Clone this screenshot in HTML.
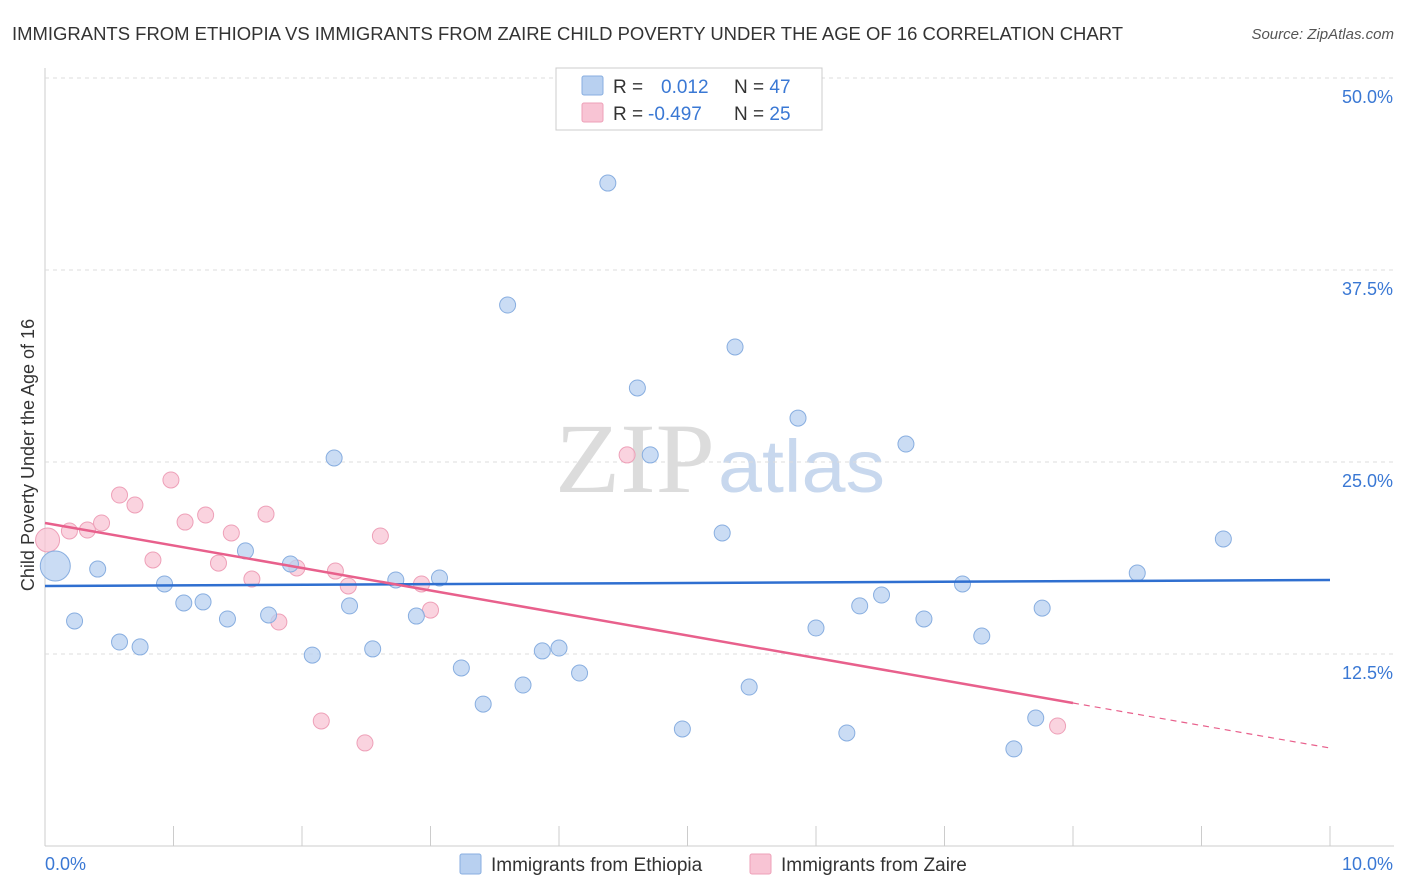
<!DOCTYPE html>
<html><head><meta charset="utf-8"><style>
body{margin:0;background:#fff;font-family:"Liberation Sans",sans-serif;}
#wrap{position:relative;width:1406px;height:892px;overflow:hidden;}
</style></head><body>
<div id="wrap">
<svg id="svg" width="1406" height="892" xmlns="http://www.w3.org/2000/svg">
<text x="12" y="40" font-size="18" fill="#333" textLength="1111" lengthAdjust="spacingAndGlyphs">IMMIGRANTS FROM ETHIOPIA VS IMMIGRANTS FROM ZAIRE CHILD POVERTY UNDER THE AGE OF 16 CORRELATION CHART</text>
<text x="1394" y="39" font-size="15" fill="#555" text-anchor="end" font-style="italic">Source: ZipAtlas.com</text>
<text x="555" y="492" font-size="100" fill="#dcdcdc" textLength="160" lengthAdjust="spacingAndGlyphs" font-family="Liberation Serif,serif">ZIP</text>
<text x="718" y="492" font-size="74" fill="#c8d8ee" textLength="167" lengthAdjust="spacingAndGlyphs">atlas</text>
<text transform="translate(34,455) rotate(-90)" font-size="18" fill="#333" text-anchor="middle">Child Poverty Under the Age of 16</text>
<g id="grid"></g><g id="marks"></g>
<g>
<rect x="556" y="68" width="266" height="62" fill="#fff" stroke="#ccc"/>
<rect x="582" y="76" width="21" height="19" fill="#b8d0f0" stroke="#88aee0" rx="2"/>
<rect x="582" y="103" width="21" height="19" fill="#f8c4d4" stroke="#eea0b8" rx="2"/>
<text x="613" y="93" font-size="19" fill="#333">R = <tspan x="661" fill="#3a78d4">0.012</tspan><tspan x="734" fill="#333">N = </tspan><tspan fill="#3a78d4">47</tspan></text>
<text x="613" y="120" font-size="19" fill="#333">R = <tspan x="648" fill="#3a78d4">-0.497</tspan><tspan x="734" fill="#333">N = </tspan><tspan fill="#3a78d4">25</tspan></text>
</g>
<g>
<rect x="460" y="854" width="21" height="20" fill="#b8d0f0" stroke="#88aee0" rx="2"/>
<text x="491" y="871" font-size="19" fill="#333">Immigrants from Ethiopia</text>
<rect x="750" y="854" width="21" height="20" fill="#f8c4d4" stroke="#eea0b8" rx="2"/>
<text x="781" y="871" font-size="19" fill="#333">Immigrants from Zaire</text>
</g>
</svg>
<script>
const ethX=[0.08,0.23,0.41,0.58,0.74,0.93,1.08,1.23,1.42,1.56,1.74,1.91,2.08,2.25,2.37,2.55,2.73,2.89,3.07,3.24,3.41,3.60,3.72,3.87,4.00,4.16,4.38,4.61,4.71,4.96,5.27,5.37,5.48,5.86,6.00,6.24,6.34,6.51,6.70,6.84,7.14,7.29,7.54,7.71,7.76,8.50,9.17];
const ethY=[18.23,14.65,18.03,13.28,12.96,17.06,15.82,15.89,14.78,19.21,15.04,18.36,12.43,25.26,15.63,12.83,17.32,14.97,17.45,11.59,9.24,35.22,10.48,12.70,12.89,11.26,43.16,29.82,25.46,7.62,20.38,32.49,10.35,27.86,14.19,7.36,15.63,16.34,26.17,14.78,17.06,13.67,6.32,8.33,15.49,17.77,19.99];
const zaiX=[0.02,0.19,0.33,0.44,0.58,0.70,0.84,0.98,1.09,1.25,1.35,1.45,1.61,1.72,1.82,1.96,2.15,2.26,2.36,2.49,2.61,2.93,3.00,4.53,7.88];
const zaiY=[19.92,20.51,20.57,21.03,22.85,22.20,18.62,23.83,21.09,21.55,18.42,20.38,17.38,21.61,14.58,18.10,8.14,17.90,16.93,6.71,20.18,17.06,15.36,25.46,7.81];
const ethTrend=[16.93,17.32];
const zaiTrend=[21.03,6.38];
const yTicks=[12.5,25.0,37.5,50.0];
const xTickVals=[0,1,2,3,4,5,6,7,8,9,10];
const NS="http://www.w3.org/2000/svg";
function sx(v){return 45+v*128.5;}
function sy(v){return 846-v*15.36;}
function mk(t,a,p){const e=document.createElementNS(NS,t);for(const k in a)e.setAttribute(k,a[k]);p.appendChild(e);return e;}
const grid=document.getElementById('grid'),marks=document.getElementById('marks');
const ax=mk('line',{x1:45,y1:68,x2:45,y2:846,stroke:'#ccc'},grid);


const bx=mk('line',{x1:45,y1:846,x2:1394,y2:846,stroke:'#ccc'},grid);


yTicks.forEach(t=>{
 const g=mk('line',{x1:45,y1:sy(t),x2:1394,y2:sy(t),stroke:'#ddd','stroke-dasharray':'4,4'},grid);
 
 
 const l=mk('text',{x:1393,y:sy(t)+25,'font-size':18,fill:'#3a78d4','text-anchor':'end'},grid);
 l.textContent=t.toFixed(1)+'%';
 
 
});
xTickVals.forEach(t=>{
 const g=mk('line',{x1:sx(t),y1:826,x2:sx(t),y2:846,stroke:'#ccc'},grid);
 
 
});
const x0=mk('text',{x:45,y:870,'font-size':18,fill:'#3a78d4'},grid);x0.textContent='0.0%';


const x1=mk('text',{x:1393,y:870,'font-size':18,fill:'#3a78d4','text-anchor':'end'},grid);x1.textContent='10.0%';


function dots(X,Y,fill,stroke,name,bigIdx,bigR){
 X.forEach((x,i)=>{
  const r=i===bigIdx?bigR:8;
  const c=mk('circle',{cx:sx(x),cy:sy(Y[i]),r:r,fill:fill,stroke:stroke,'stroke-width':1,'fill-opacity':0.75},marks);
  
  
 });
}
dots(zaiX,zaiY,'#f8c4d4','#eea0b8','zaire-point',0,12);
dots(ethX,ethY,'#b8d0f0','#88aee0','ethiopia-point',0,15);
const bl=mk('line',{x1:sx(0),y1:sy(ethTrend[0]),x2:sx(10),y2:sy(ethTrend[1]),stroke:'#2f6fd0','stroke-width':2.5},marks);


const zEnd=8, zAt=zaiTrend[0]+(zaiTrend[1]-zaiTrend[0])*zEnd/10;
const pl=mk('line',{x1:sx(0),y1:sy(zaiTrend[0]),x2:sx(zEnd),y2:sy(zAt),stroke:'#e8608c','stroke-width':2.5},marks);


const pd=mk('line',{x1:sx(zEnd),y1:sy(zAt),x2:sx(10),y2:sy(zaiTrend[1]),stroke:'#e8608c','stroke-width':1.2,'stroke-dasharray':'6,5'},marks);


</script>
</div></body></html>
